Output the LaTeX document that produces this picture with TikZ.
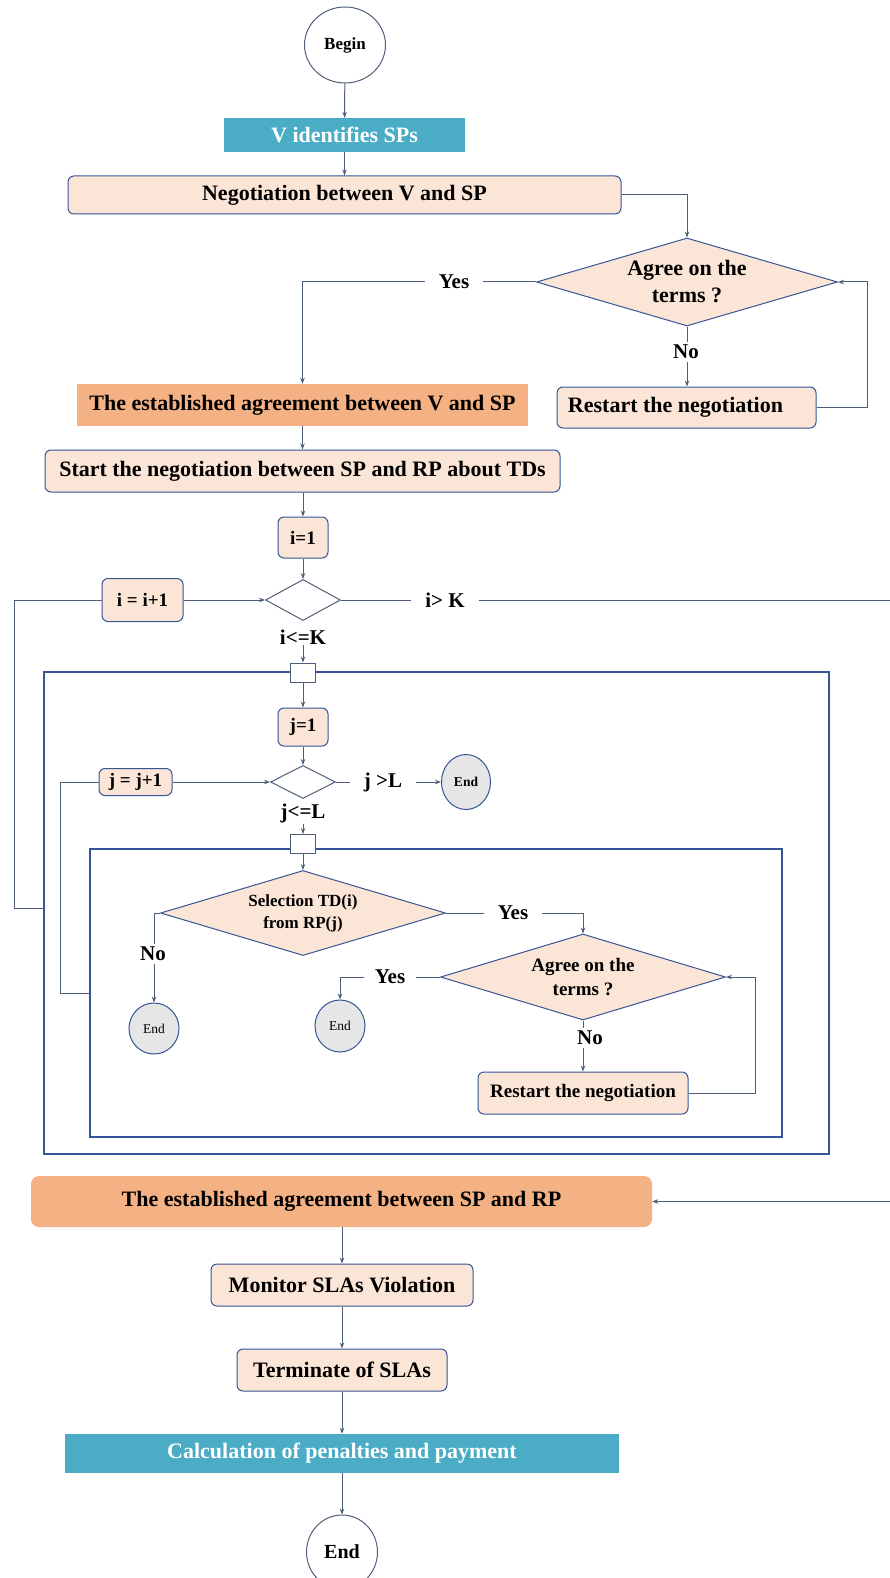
\documentclass[tikz,border=0pt]{standalone}
\usepackage{fontspec}
\setmainfont{Liberation Serif}
\usetikzlibrary{shapes.geometric,arrows.meta}
\definecolor{peach}{RGB}{251,229,214}
\definecolor{tealc}{RGB}{75,172,198}
\definecolor{orangec}{RGB}{244,177,131}
\definecolor{greyc}{RGB}{230,230,230}
\definecolor{bordc}{RGB}{52,86,150}
\definecolor{linec}{RGB}{78,94,122}
\newcommand\fs[2]{\fontsize{#1}{#2}\selectfont}
\begin{document}
\begin{tikzpicture}[x=1pt,y=-1pt,
  proc/.style={draw=bordc, line width=1pt, fill=peach, rounded corners=6pt, inner sep=0pt, align=center, font=\bfseries\fs{22}{26}},
  tealbox/.style={fill=tealc, text=white, inner sep=0pt, font=\bfseries\fs{22}{26}},
  orbox/.style={fill=orangec, inner sep=0pt, font=\bfseries\fs{22}{26}},
  dec/.style={diamond, draw=bordc, line width=1pt, fill=peach, inner sep=0pt, aspect=3.4, align=center, font=\bfseries\fs{22}{27}},
  sdec/.style={diamond, draw=linec, line width=1pt, fill=white, inner sep=0pt, aspect=1.8},
  term/.style={ellipse, draw=linec, line width=1pt, fill=white, inner sep=0pt},
  gend/.style={ellipse, draw=bordc, line width=1pt, fill=greyc, inner sep=0pt, font=\bfseries\fs{13.5}{16}},
  lbl/.style={inner xsep=14pt, inner ysep=3pt, font=\bfseries\fs{21}{25}},
  conn/.style={draw=linec, line width=1pt},
  arr/.style={conn, -{Stealth[length=6pt,width=4.5pt]}},
  jn/.style={draw=linec, line width=1pt, fill=white, minimum width=25pt, minimum height=19pt, inner sep=0pt},
  frame/.style={draw=bordc, line width=1.3pt}]
\useasboundingbox (0,0) rectangle (889,1578);

% ---- vendor / service provider negotiation
\node[term, minimum width=81pt, minimum height=76pt, font=\bfseries\fs{17}{20}] (begin) at (345,45) {Begin};
\node[tealbox, minimum width=241pt, minimum height=34pt] (vid) at (344.5,135) {V identifies SPs};
\node[proc, minimum width=553pt, minimum height=38pt] (neg) at (344.5,195) {Negotiation between V and SP};
\node[dec, minimum width=301pt, minimum height=88pt] (agree1) at (687,282) {Agree on the\\terms ?};
\node[lbl] (yes1) at (454,282) {Yes};
\node[lbl] (no1) at (686,352) {No};
\node[orbox, minimum width=451pt, minimum height=42pt] (est1) at (302.5,405) {The established agreement between V and SP};
\node[proc, minimum width=259pt, minimum height=41pt] (rest1) at (686.5,407.5) {Restart the negotiation\hspace*{22pt}};
\node[proc, minimum width=515pt, minimum height=42pt] (start) at (302.5,471) {Start the negotiation between SP and RP about TDs};

% ---- outer loop over i
\node[proc, minimum width=50pt, minimum height=41pt, font=\bfseries\fs{19}{22}] (i1) at (303,537.5) {i=1};
\node[sdec, minimum width=75pt, minimum height=41pt] (di) at (303,600) {};
\node[proc, minimum width=81pt, minimum height=43pt, font=\bfseries\fs{19}{22}] (iinc) at (142.5,600) {i = i+1};
\node[lbl] (igt) at (445,600) {i> K};
\node[lbl, inner ysep=1pt] (ile) at (303,637) {i<=K};
\draw[frame] (44,672) rectangle (829,1154);
\node[jn] (jn1) at (303,672.5) {};

% ---- inner loop over j
\node[proc, minimum width=50pt, minimum height=38pt, font=\bfseries\fs{19}{22}] (j1) at (303,727) {j=1};
\node[sdec, minimum width=65pt, minimum height=33pt] (dj) at (303,782) {};
\node[proc, minimum width=73pt, minimum height=27pt, font=\bfseries\fs{19}{22}] (jinc) at (135.5,782) {j = j+1};
\node[lbl] (jgt) at (383,782) {j >L};
\node[gend, minimum width=49pt, minimum height=55pt] (endj) at (466,782) {End};
\node[lbl, inner ysep=1pt] (jle) at (303,813) {j<=L};
\draw[frame] (90,849) rectangle (782,1137);
\node[jn] (jn2) at (303,844) {};

\node[dec, minimum width=285pt, minimum height=85pt, font=\bfseries\fs{17}{22}] (sel) at (303,913) {Selection TD(i)\\from RP(j)};
\node[lbl] (no2) at (153,954) {No};
\node[gend, minimum width=50pt, minimum height=51pt, font=\fs{13.5}{16}] (end1) at (154,1028.5) {End};
\node[lbl] (yes2) at (513,913) {Yes};
\node[dec, minimum width=285pt, minimum height=86pt, font=\bfseries\fs{19}{24}] (agree2) at (583,977) {Agree on the\\terms ?};
\node[lbl, inner xsep=11pt] (yes3) at (390,977) {Yes};
\node[gend, minimum width=50pt, minimum height=52pt, font=\fs{13.5}{16}] (end2) at (340,1026) {End};
\node[lbl] (no3) at (590,1038) {No};
\node[proc, minimum width=210pt, minimum height=42pt, font=\bfseries\fs{19}{22}] (rest2) at (583,1093) {Restart the negotiation};

% ---- SLA execution
\node[orbox, rounded corners=8pt, minimum width=621pt, minimum height=51pt] (est2) at (341.5,1201.5) {The established agreement between SP and RP};
\node[proc, minimum width=262pt, minimum height=42pt] (mon) at (342,1285) {Monitor SLAs Violation};
\node[proc, minimum width=210pt, minimum height=42pt] (term) at (342,1370) {Terminate of SLAs};
\node[tealbox, minimum width=554pt, minimum height=39pt] (calc) at (342,1453.5) {Calculation of penalties and payment};
\node[term, minimum width=71pt, minimum height=74pt, font=\bfseries\fs{20}{24}] (fin) at (342,1552) {End};

% ---- helper points for the loop-back lines
\coordinate (r1) at (867,282);
\coordinate (rout) at (900,600);
\coordinate (rin) at (900,1201.5);
\coordinate (oL) at (44,908);
\coordinate (iback) at (14,908);
\coordinate (iL) at (90,993);
\coordinate (jback) at (60,993);
\coordinate (r2) at (755,977);

% ---- connectors
\draw[arr] (begin) -- (vid);
\draw[arr] (vid) -- (neg);
\draw[arr] (neg.east) -| (agree1.north);
\draw[conn] (agree1.west) -- (agree1.west -| yes1.east);
\draw[arr] (yes1.west) -| (est1.north);
\draw[conn] (agree1.south) -- (agree1.south |- no1.north);
\draw[arr] (agree1.south |- no1.south) -- (agree1.south |- rest1.north);
\draw[arr] (rest1.east) -| (r1) -- (agree1.east);
\draw[arr] (est1) -- (start);
\draw[arr] (start.south -| i1.north) -- (i1);
\draw[arr] (i1) -- (di);
\draw[arr] (iinc.east) -- (di.west);
\draw[conn] (di.east) -- (igt.west);
\draw[arr] (igt.east) -- (rout) -- (rin) -- (est2.east);
\draw[arr] (ile.south) -- (jn1.north);
\draw[conn] (oL) -- (iback) |- (iinc.west);
\draw[arr] (jn1) -- (j1);
\draw[arr] (j1) -- (dj);
\draw[arr] (jinc.east) -- (dj.west);
\draw[conn] (dj.east) -- (jgt.west);
\draw[arr] (jgt.east) -- (endj.west);
\draw[arr] (jle.south) -- (jn2.north);
\draw[arr] (jn2) -- (sel.north);
\draw[conn] (iL) -- (jback) |- (jinc.west);
\draw[conn] (sel.west) -| (no2.north -| end1.north);
\draw[arr] (no2.south -| end1.north) -- (end1.north);
\draw[conn] (sel.east) -- (sel.east -| yes2.west);
\draw[arr] (yes2.east) -| (agree2.north);
\draw[conn] (agree2.west) -- (agree2.west -| yes3.east);
\draw[arr] (yes3.west) -| (end2.north);
\draw[conn] (agree2.south) -- (agree2.south |- no3.north);
\draw[arr] (agree2.south |- no3.south) -- (rest2.north);
\draw[arr] (rest2.east) -| (r2) -- (agree2.east);
\draw[arr] (est2.south -| mon.north) -- (mon);
\draw[arr] (mon) -- (term);
\draw[arr] (term) -- (calc);
\draw[arr] (calc) -- (fin);
\end{tikzpicture}
\end{document}
